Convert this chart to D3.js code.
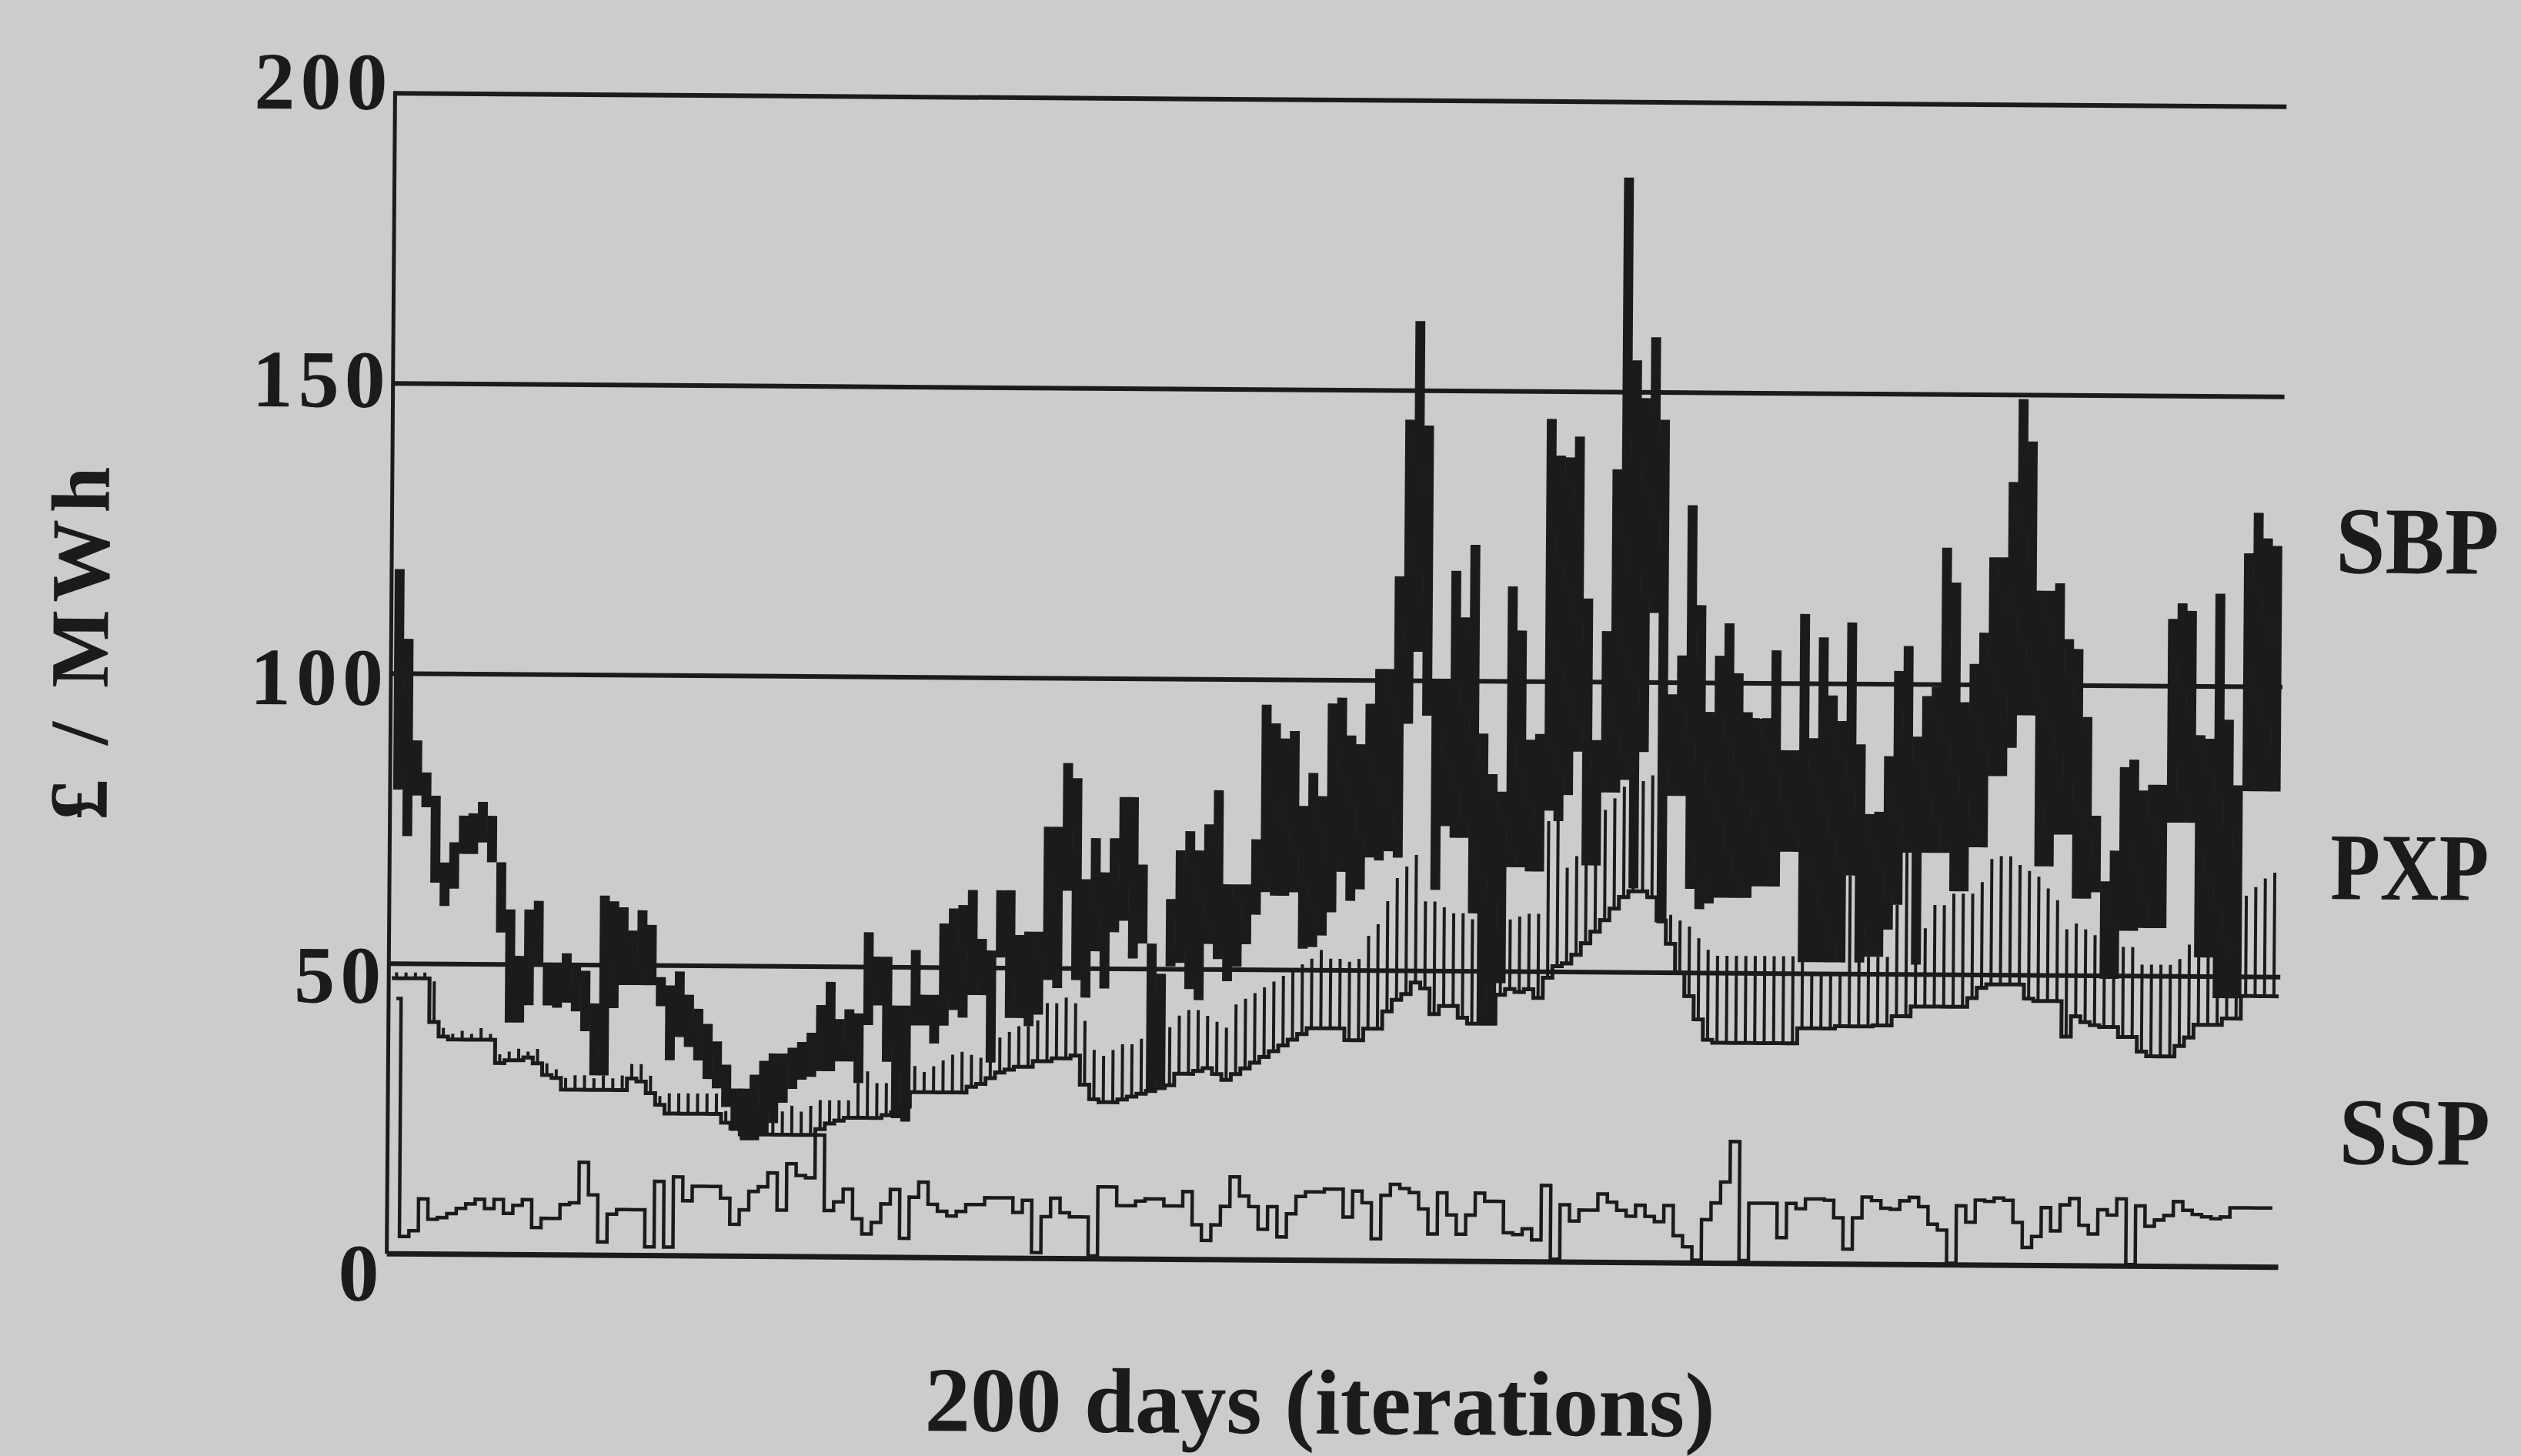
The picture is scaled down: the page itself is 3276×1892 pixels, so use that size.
<!DOCTYPE html>
<html>
<head>
<meta charset="utf-8">
<script src="https://cdn.jsdelivr.net/npm/d3@7"></script>
<style>
  html, body { margin: 0; padding: 0; background: #cccccc; }
  svg { display: block; }
  text { font-family: "Liberation Serif", "Times New Roman", serif; font-weight: bold; fill: #1b1b1b; }
</style>
</head>
<body>
<svg></svg>
<script>
// DATA (one value per day)

const Y_TICKS = [0, 50, 100, 150, 200];
const SERIES_LABELS = ["SBP", "PXP", "SSP"];

const sbpHigh = [
  118, 106, 88.5, 83, 79, 67.5, 71, 75.6, 76, 78,
  75.6, 67.6, 59.5, 51.5, 59.5, 61, 50, 50, 52, 50,
  49, 43.4, 62, 61, 60, 56, 59.5, 57, 48, 46.6,
  49, 45, 42.6, 40, 37, 33, 28.9, 28.9, 31.3, 33.7,
  35, 35, 36, 37, 38.6, 43.4, 47.4, 41, 42.7, 42,
  56, 51.8, 51.8, 43.4, 43.4, 53, 45.3, 45.3, 57.6, 60.2,
  60.8, 63.4, 55, 53, 63.4, 63.4, 55.7, 56.3, 56.3, 74.4,
  74.4, 85.4, 82.8, 65.4, 72.5, 66.6, 72.5, 79.6, 79.6, 68,
  54.4, 49.2, 62.1, 70.5, 73.8, 70.5, 75, 80.9, 64.7, 64.7,
  64.7, 72.5, 95.7, 92.5, 89.9, 91.2, 78.3, 84, 80, 96,
  97, 90.5, 89, 96, 102, 102, 118, 145, 162, 144,
  100, 100, 119, 111, 123.5, 91, 84, 81, 116.4, 108.8,
  90, 91, 145.3, 139, 138.7, 142.3, 114.4, 90, 108.8, 136.7,
  187, 155.5, 149, 159.5, 145.3, 98, 104.7, 130.6, 113.4, 95,
  104.7, 110.3, 101.7, 95, 94, 94, 105.7, 88.5, 88.5, 112,
  90.6, 108, 98, 93.6, 110.6, 89.6, 77.6, 78, 87.6, 102.3,
  106.6, 91, 98, 99.6, 123.6, 117.6, 97, 103.6, 109, 122,
  122, 135, 149.3, 142, 116.3, 116.3, 117.6, 108, 106.3, 94.6,
  77.6, 66.3, 71.6, 86, 87.3, 82, 83, 83, 111.6, 114.3,
  113, 91.6, 91, 116, 94.3, 83, 123, 130, 125.6, 124.3
];

const sbpLow = [
  80, 72, 79, 77, 64, 60, 63, 69, 69, 71,
  67.6, 55.5, 40, 40, 43, 50, 43, 42.6, 43.5, 42,
  38.6, 31, 31, 42.6, 46.6, 46.6, 46.6, 46.6, 43, 33.7,
  37.7, 36, 33.7, 30.5, 28.9, 25.7, 21.6, 20, 20, 20.8,
  23, 26.5, 28.9, 30.5, 31, 32, 32, 33.7, 33.7, 30,
  40, 43.4, 33.7, 24, 23.4, 40, 40, 36.9, 40, 42.7,
  41.4, 45.3, 45.3, 33.7, 51.8, 41.4, 41.4, 40, 42, 48,
  46.6, 63.4, 48, 45, 53, 46.6, 56.3, 58.3, 51.8, 54.4,
  29.2, 29.8, 50.5, 51.1, 46.6, 44.7, 54.4, 51.8, 48, 50.5,
  54.4, 59.5, 63.4, 62.8, 62.8, 63.4, 53.7, 54, 56, 60,
  67, 62, 64, 69.5, 69, 70.6, 69.5, 92.6, 105, 94,
  64, 75, 73, 73, 60, 41, 41, 48, 68, 68,
  67.3, 67.3, 77.8, 76, 80.5, 88, 68.4, 68.4, 81, 81,
  83.2, 64.5, 88, 112, 58.5, 80.5, 80.5, 64.5, 61, 62,
  63, 63, 63, 63, 65, 65, 65, 71, 71, 52,
  52, 52, 52, 52, 67, 52, 53, 53, 57.7, 62,
  71, 51.7, 71, 71, 71, 64.4, 64.4, 72, 72, 84.3,
  84.3, 89.2, 94.8, 94.8, 68.8, 68.8, 74.3, 74.3, 63.3, 63.3,
  64.4, 49.5, 49.5, 57.8, 57.8, 58.3, 58.3, 58.3, 76.5, 76.5,
  76.5, 53.3, 53.3, 46.3, 46.3, 46.3, 82, 82, 82, 82
];

const pxpHigh = [
  48.5, 48.5, 48.5, 48.5, 47, 39, 38, 38.5, 38, 39,
  38, 34.5, 35, 35.5, 35, 35.5, 33, 32, 30.5, 31,
  31, 30.5, 31, 30.5, 31, 33, 33, 31, 27.5, 28,
  28, 28, 28, 28, 28, 25, 24, 26, 26, 25,
  26, 25, 26, 25, 26, 27, 27, 27, 27, 30,
  32, 30, 30, 31, 32, 33, 32, 33, 34, 35,
  35.5, 35, 34.5, 36, 38, 39, 40, 40, 41, 44,
  44, 45, 44, 41, 36, 35, 36, 37, 37, 38,
  38, 39, 40, 42, 43, 43, 42, 41, 40, 44,
  45, 46, 47, 48, 49, 50, 51, 52, 53.5, 52,
  52, 51.5, 52, 56, 58, 62, 66, 68, 70, 62,
  62, 61, 60, 60, 59, 58, 58, 58, 59, 59.5,
  60, 60, 76, 77, 68, 70, 73, 76, 78, 80,
  82, 83, 83, 84, 84, 60, 59, 58, 56, 54,
  53, 53, 53, 53, 53, 53, 53, 53, 53, 70,
  50, 50, 50, 50, 67, 53, 53, 53, 53, 62,
  71, 58, 58, 62, 62, 64, 64, 64, 66, 70,
  70.5, 70.5, 69, 68, 67, 65, 63, 58, 59, 58,
  57, 56, 55, 55, 55, 52, 52, 52, 52, 53,
  55.5, 55.5, 58, 66, 60, 58, 64, 65.5, 67, 68
];

const pxpLow = [
  47.5, 47.5, 47.5, 47.5, 40, 37.5, 37, 37, 37, 37,
  37, 33, 33.5, 33.5, 34, 33, 31, 30.5, 28.5, 28.5,
  28.5, 28.5, 28.5, 28.5, 28.5, 30.5, 30, 28, 26, 24.5,
  24.5, 24.5, 24.5, 24.5, 24.5, 23, 22, 21, 21, 21,
  21, 21, 21, 21, 21, 22, 23, 23.5, 24, 24,
  24, 24, 24.5, 25, 26, 28.5, 28.5, 28.5, 28.5, 28.5,
  28.5, 29.5, 30, 31, 32, 32.5, 33, 33, 34, 34,
  34.5, 34.5, 35, 30, 27.5, 27, 27, 27.5, 28, 28.5,
  29, 29.5, 30, 32, 32, 32.5, 33, 32, 31, 32,
  33, 34, 35, 36, 37, 38, 39, 40, 40, 40,
  40, 38, 38, 40, 40, 43, 45, 46, 48, 47,
  42.6, 44, 44, 42, 41, 41, 41, 46, 47, 46.5,
  47, 45.5, 49, 51, 51.5, 53, 55, 57, 59, 61,
  63, 64, 64, 63, 59, 55, 50, 46, 42, 38.5,
  38, 38, 38, 38, 38, 38, 38, 38, 38, 40.6,
  40.6, 40.6, 40.6, 41, 41, 41, 41, 41.2, 41.2, 42.8,
  42.8, 44.5, 44.5, 44.5, 44.5, 44.5, 44.5, 46, 47.8, 48.4,
  48.4, 48.4, 48.4, 46, 45.6, 45.6, 45.6, 39.5, 43, 42,
  41.5, 41.2, 41.2, 39.5, 39.5, 37, 36.2, 36.2, 36.2, 38,
  39.5, 41.7, 41.7, 41.7, 42.8, 42.8, 46.7, 46.7, 46.7, 46.7
];

const ssp = [
  44, 3, 4, 9.5, 6, 6.3, 7, 7.9, 8.7, 9.5,
  7.9, 9.5, 7.1, 8.5, 9.5, 4.7, 6.3, 6.3, 8.7, 9,
  16, 10.4, 2.3, 7.1, 7.9, 7.9, 7.9, 1.5, 12.8, 1.5,
  13.6, 9.5, 12, 12, 12, 10, 5.5, 8, 11.2, 12,
  14.4, 8, 16, 14, 13.6, 21, 8, 9.5, 11.7, 6.6,
  4, 6, 9.2, 11.7, 3.3, 10.4, 13, 9.2, 8, 7.2,
  8, 9.2, 9.2, 10.4, 10.4, 10.4, 7.9, 10, 1, 7.2,
  10.4, 7.9, 7.2, 7.2, 0.5, 12.4, 12.4, 9.2, 9.2, 10,
  10.4, 10.4, 9.2, 9.2, 11.7, 6, 3.3, 6, 9.2, 14.3,
  11, 9.2, 5.3, 9.2, 4, 8, 11, 11.8, 11.8, 12.3,
  12.3, 7.5, 12, 10, 3.8, 11.3, 13.2, 12.5, 11.8, 9,
  4.7, 11.8, 8, 4.7, 8, 11.8, 10.4, 10.4, 5, 4.7,
  5.7, 3.8, 13.2, 0.5, 9.9, 7.1, 9, 9, 11.8, 10.4,
  9, 8, 9.9, 8, 7.1, 9.9, 4.7, 2.8, 0.5, 7.5,
  10.4, 14, 21, 0.5, 10.4, 10.4, 10.4, 4.5, 10.4, 9.5,
  11.2, 11.2, 11, 8, 2.6, 8, 11.6, 11, 9.7, 9.5,
  11, 11.6, 10, 7, 6, 0.3, 10.2, 7.4, 11.2, 11,
  11.6, 11.2, 7.4, 3.1, 5, 10, 6, 10.5, 11.6, 7,
  5.5, 9.7, 8.8, 11.6, 0.3, 10.4, 6.9, 8, 8.8, 11.2,
  9.7, 9, 8.6, 8.3, 8.6, 10.2, 10.2, 10.2, 10.2, 10.2
];

// LAYOUT

const WIDTH = 3276;
const HEIGHT = 1892;
const INK = "#1b1b1b";
const PAPER = "#cccccc";
const SCAN_TILT = 0.41; // the page was scanned slightly crooked

const days = d3.range(sbpHigh.length);

const x = d3.scaleLinear().domain([0, 200]).range([512, 2964]);
const y = d3.scaleLinear().domain([0, 200]).range([1638, 130]);
const yLabel = d3.scaleLinear().domain([0, 200]).range([1663, 115]); // tick text sits a bit apart from the rules

const svg = d3.select("svg")
    .attr("width", WIDTH)
    .attr("height", HEIGHT);

svg.append("rect")
    .attr("width", WIDTH)
    .attr("height", HEIGHT)
    .attr("fill", PAPER);

const chart = svg.append("g")
    .attr("transform", `rotate(${SCAN_TILT}, 1740, 880)`);

// horizontal rules + y axis
chart.selectAll(".grid")
    .data(Y_TICKS)
    .enter()
    .append("line")
    .attr("class", "grid")
    .attr("x1", 508)
    .attr("x2", 2966)
    .attr("y1", d => y(d))
    .attr("y2", d => y(d))
    .attr("stroke", INK)
    .attr("stroke-width", d => d === 0 ? 7 : 6);

chart.append("line")
    .attr("x1", 508)
    .attr("x2", 508)
    .attr("y1", y(200) - 3)
    .attr("y2", y(0))
    .attr("stroke", INK)
    .attr("stroke-width", 5);

// SBP: solid black band, one block per day
chart.selectAll(".sbp")
    .data(days)
    .enter()
    .append("rect")
    .attr("class", "sbp")
    .attr("x", d => x(d))
    .attr("width", x(1) - x(0) + 0.6)
    .attr("y", d => y(sbpHigh[d]))
    .attr("height", d => y(sbpLow[d]) - y(sbpHigh[d]))
    .attr("fill", INK);

// PXP: hatched band, one stroke per day plus a heavy lower edge
chart.selectAll(".pxp")
    .data(days)
    .enter()
    .append("line")
    .attr("class", "pxp")
    .attr("x1", d => x(d + 0.5))
    .attr("x2", d => x(d + 0.5))
    .attr("y1", d => y(pxpLow[d]))
    .attr("y2", d => y(pxpHigh[d]))
    .attr("stroke", INK)
    .attr("stroke-width", 4);

const pxpEdge = days.map(d => [d, pxpLow[d]]).concat([[days.length, pxpLow[days.length - 1]]]);
chart.append("path")
    .datum(pxpEdge)
    .attr("d", d3.line().x(p => x(p[0])).y(p => y(p[1])).curve(d3.curveStepAfter))
    .attr("fill", "none")
    .attr("stroke", INK)
    .attr("stroke-width", 5);

// SSP: thin stepped line
chart.append("path")
    .datum(days)
    .attr("d", d3.line().x(d => x(d + 0.5)).y(d => y(ssp[d])).curve(d3.curveStep))
    .attr("fill", "none")
    .attr("stroke", INK)
    .attr("stroke-width", 4.5);

// TEXT

chart.selectAll(".tick-label")
    .data(Y_TICKS)
    .enter()
    .append("text")
    .attr("class", "tick-label")
    .attr("x", 505)
    .attr("y", d => yLabel(d))
    .attr("dy", "0.34em")
    .attr("text-anchor", "end")
    .style("font-size", "106px")
    .style("letter-spacing", "7px")
    .text(d => d);

chart.append("text")
    .attr("transform", "translate(140, 848) rotate(-90)")
    .attr("text-anchor", "middle")
    .attr("textLength", 460)
    .attr("lengthAdjust", "spacing")
    .style("font-size", "108px")
    .text("£ / MWh");

chart.append("text")
    .attr("x", 1722)
    .attr("y", 1863)
    .attr("text-anchor", "middle")
    .attr("textLength", 1027)
    .attr("lengthAdjust", "spacingAndGlyphs")
    .style("font-size", "120px")
    .text("200 days (iterations)");

const labelPos = [
    {x: 3034, y: 735, w: 212},
    {x: 3030, y: 1159, w: 206},
    {x: 3044, y: 1503, w: 196}
];

chart.selectAll(".series-label")
    .data(SERIES_LABELS)
    .enter()
    .append("text")
    .attr("class", "series-label")
    .attr("x", (d, i) => labelPos[i].x)
    .attr("y", (d, i) => labelPos[i].y)
    .attr("textLength", (d, i) => labelPos[i].w)
    .attr("lengthAdjust", "spacingAndGlyphs")
    .style("font-size", "124px")
    .text(d => d);
</script>
</body>
</html>
